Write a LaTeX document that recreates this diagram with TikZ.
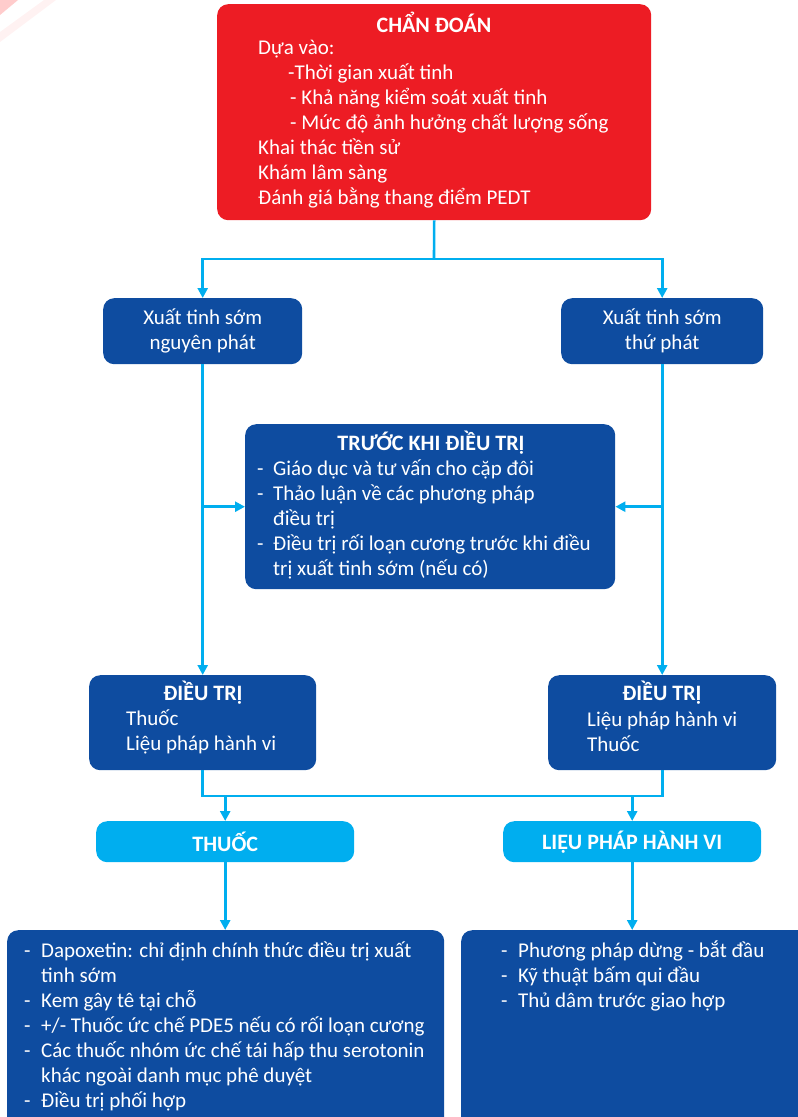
\documentclass[tikz,border=0pt]{standalone}
\usepackage{fontspec}
\setmainfont{Carlito}
\usetikzlibrary{arrows.meta}

\definecolor{diagred}{RGB}{237,28,36}
\definecolor{navy}{RGB}{14,76,160}
\definecolor{sky}{RGB}{0,174,239}

\newcommand{\dash}[1]{\makebox[#1][l]{-}}

\begin{document}
\begin{tikzpicture}[x=1pt, y=-1pt,
   panel/.style = {rounded corners=11pt, inner sep=0pt, anchor=north west},
   txt/.style = {text=white, font=\fontsize{21}{25}\selectfont, inner sep=0pt, align=left, anchor=west},
   head/.style = {text=white, font=\bfseries\fontsize{22}{25}\selectfont, inner sep=0pt},
   link/.style = {draw=sky, line width=2.6pt},
   arrow/.style = {link, -{Triangle[length=10pt, width=10pt]}}]
   \useasboundingbox (0,0) rectangle (798,1117);
   \fill[red!20] (0,0) -- (18,0) -- (0,15) -- cycle;
   \fill[red!5] (44,0) -- (56,0) -- (0,42) -- (0,32) -- cycle;

   % boxes
   \node[panel, fill=diagred, minimum width=434pt, minimum height=216pt] (diag) at (217,4) {};
   \node[panel, fill=navy, minimum width=199pt, minimum height=66pt] (prim) at (103,298) {};
   \node[panel, fill=navy, minimum width=202pt, minimum height=66pt] (sec) at (561,298) {};
   \node[panel, fill=navy, minimum width=370pt, minimum height=165pt] (pre) at (245,424) {};
   \node[panel, fill=navy, minimum width=227pt, minimum height=95pt] (treatL) at (89,675) {};
   \node[panel, fill=navy, minimum width=228pt, minimum height=95pt] (treatR) at (548,675) {};
   \node[panel, fill=sky, minimum width=258pt, minimum height=41pt] (drug) at (96,821) {};
   \node[panel, fill=sky, minimum width=258pt, minimum height=41pt] (behav) at (503,821) {};
   \node[panel, fill=navy, minimum width=437pt, minimum height=200pt] (drugList) at (7,930) {};
   \node[panel, fill=navy, minimum width=350pt, minimum height=200pt] (behavList) at (461,930) {};

   % texts
   \node[head] (diag-head) at (434,22) {CHẨN ĐOÁN};
   \node[txt] (diag-body) at (258,124) {Dựa vào:\\
      \hspace*{30pt}-Thời gian xuất tinh\\
      \hspace*{32pt}- Khả năng kiểm soát xuất tinh\\
      \hspace*{32pt}- Mức độ ảnh hưởng chất lượng sống\\
      Khai thác tiền sử\\
      Khám lâm sàng\\
      Đánh giá bằng thang điểm PEDT};
   \node[txt, align=center, anchor=center] (prim-txt) at (prim) {Xuất tinh sớm\\nguyên phát};
   \node[txt, align=center, anchor=center] (sec-txt) at (sec) {Xuất tinh sớm\\thứ phát};
   \node[head] (pre-head) at (431,443) {TRƯỚC KHI ĐIỀU TRỊ};
   \node[txt] (pre-body) at (257,519) {\dash{16pt}Giáo dục và tư vấn cho cặp đôi\\
      \dash{16pt}Thảo luận về các phương pháp\\
      \hspace*{16pt}điều trị\\
      \dash{16pt}Điều trị rối loạn cương trước khi điều\\
      \hspace*{16pt}trị xuất tinh sớm (nếu có)};
   \node[head] (treatL-head) at (203,693) {ĐIỀU TRỊ};
   \node[txt] (treatL-body) at (126,732) {Thuốc\\Liệu pháp hành vi};
   \node[head] (treatR-head) at (662,693) {ĐIỀU TRỊ};
   \node[txt] (treatR-body) at (587,732) {Liệu pháp hành vi\\Thuốc};
   \node[head] (drug-head) at (drug) {THUỐC};
   \node[head] (behav-head) at (behav) {LIỆU PHÁP HÀNH VI};
   \node[txt] (drugList-body) at (24,1026) {\dash{17pt}Dapoxetin: chỉ định chính thức điều trị xuất\\
      \hspace*{17pt}tinh sớm\\
      \dash{17pt}Kem gây tê tại chỗ\\
      \dash{17pt}+/- Thuốc ức chế PDE5 nếu có rối loạn cương\\
      \dash{17pt}Các thuốc nhóm ức chế tái hấp thu serotonin\\
      \hspace*{17pt}khác ngoài danh mục phê duyệt\\
      \dash{17pt}Điều trị phối hợp};
   \node[txt] (behavList-body) at (501,976) {\dash{17pt}Phương pháp dừng - bắt đầu\\
      \dash{17pt}Kỹ thuật bấm qui đầu\\
      \dash{17pt}Thủ dâm trước giao hợp};

   % connectors
   \coordinate (fork) at (434,259);
   \coordinate (merge) at (433,796);
   \draw[link] (diag.south) -- (fork);
   \draw[arrow] (fork) -| (prim.north);
   \draw[arrow] (fork) -| (sec.north);
   \draw[arrow] (prim) -- (treatL);
   \draw[arrow] (sec) -- (treatR);
   \draw[arrow] (prim.south |- pre.west) -- (pre.west);
   \draw[arrow] (sec.south |- pre.east) -- (pre.east);
   \draw[link] (treatL.south) |- (merge) -| (treatR.south);
   \draw[arrow] (drug.north |- merge) -- (drug.north);
   \draw[arrow] (behav.north |- merge) -- (behav.north);
   \draw[arrow] (drug.south) -- (drug.south |- drugList.north);
   \draw[arrow] (behav.south) -- (behav.south |- behavList.north);
\end{tikzpicture}
\end{document}
